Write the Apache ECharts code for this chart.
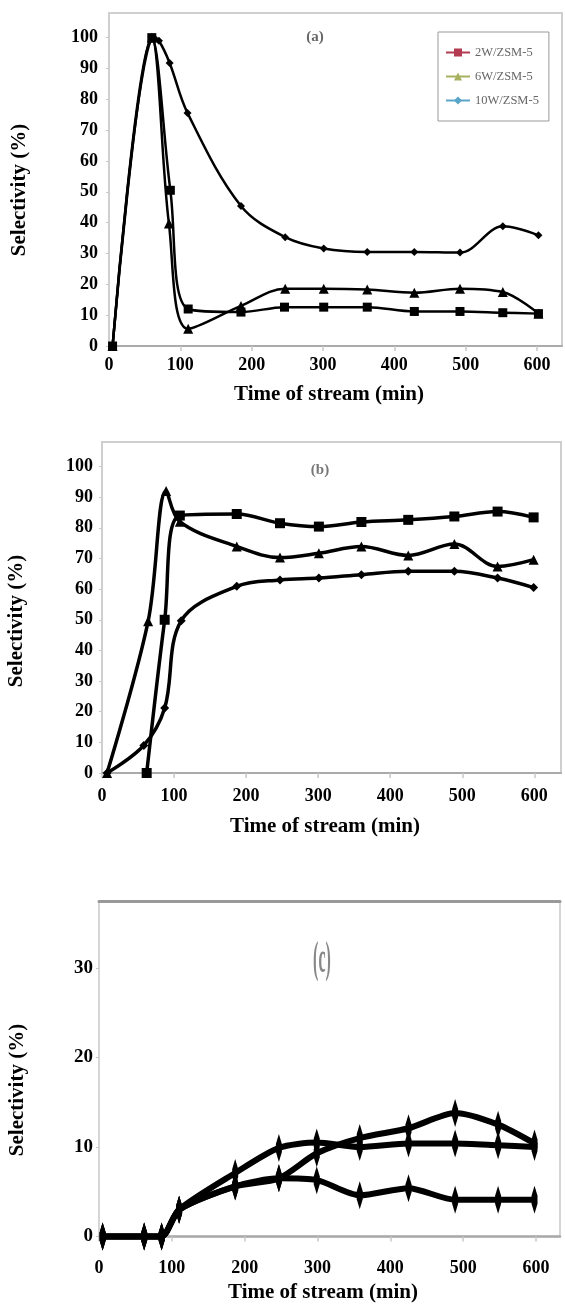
<!DOCTYPE html>
<html>
<head>
<meta charset="utf-8">
<title>Selectivity vs time of stream</title>
<script src="https://cdn.jsdelivr.net/npm/echarts@6/dist/echarts.min.js"></script>
<style>
  html, body { margin: 0; padding: 0; background: #fff; }
  #chart { width: 565px; height: 1309px; }
</style>
</head>
<body>
<div id="chart"></div>
<script>
  // series names
  const names = ['2W/ZSM-5', '6W/ZSM-5', '10W/ZSM-5']
  const legendColors = ['#b33a50', '#a8b25e', '#5aa6c8']

  // panel (a)
  const aTime2W = [5, 60, 86, 111, 185, 246, 301, 362, 428, 492, 552, 602]
  const aSel2W = [0, 100, 50.5, 12, 11, 12.6, 12.6, 12.6, 11.2, 11.2, 10.8, 10.5]
  const aTime6W = [5, 60, 84, 111, 185, 247, 301, 362, 428, 492, 552, 602]
  const aSel6W = [0, 100, 39.7, 5.6, 13, 18.6, 18.6, 18.3, 17.3, 18.6, 17.5, 10.5]
  const aTime10W = [5, 63, 70, 85, 110, 185, 247, 301, 362, 428, 492, 552, 602]
  const aSel10W = [0, 100, 99, 91.8, 75.6, 45.4, 35.3, 31.6, 30.5, 30.5, 30.3, 38.8, 35.9]

  // panel (b)
  const bTime2W = [62, 87, 108, 187, 247, 301, 360, 425, 489, 549, 599]
  const bSel2W = [0, 50, 84, 84.5, 81.5, 80.4, 81.9, 82.6, 83.7, 85.3, 83.4]
  const bTime6W = [7, 64, 89, 108, 187, 247, 301, 360, 425, 489, 549, 599]
  const bSel6W = [0, 49.5, 92, 82, 73.9, 70.3, 71.7, 73.9, 71, 74.7, 67.4, 69.6]
  const bTime10W = [7, 58, 87, 110, 187, 247, 301, 360, 425, 489, 549, 599]
  const bSel10W = [0, 9, 21.2, 49.7, 60.9, 63, 63.6, 64.7, 65.8, 65.8, 63.6, 60.5]

  // panel (c)
  const cTime = [5, 62, 86, 110, 187, 247, 299, 358, 425, 489, 548, 598]
  const cSel2W = [0, 0, 0, 3, 5.6, 6.5, 9.3, 11, 12.1, 13.8, 12.5, 10.4]
  const cSel6W = [0, 0, 0, 3, 7.1, 9.9, 10.5, 10, 10.4, 10.4, 10.2, 10]
  const cSel10W = [0, 0, 0, 3, 5.6, 6.5, 6.3, 4.6, 5.4, 4.1, 4.1, 4.1]

  // tick labels
  const xTicks = [0, 100, 200, 300, 400, 500, 600]
  const yTicksAB = [0, 10, 20, 30, 40, 50, 60, 70, 80, 90, 100]
  const yTicksC = [0, 10, 20, 30]

  const serif = 'Liberation Serif'
  const pairs = (xs, ys) => xs.map((x, i) => [x, ys[i]])

  function xAxis (grid, max, margin, lineWidth) {
    return {
      type: 'value', gridIndex: grid, min: 0, max: max,
      axisLine: { show: true, lineStyle: { color: '#aaa', width: lineWidth } },
      axisTick: { show: true, length: 5, customValues: xTicks, lineStyle: { color: '#c8c8c8', width: 1.5 } },
      axisLabel: { customValues: xTicks, margin: margin, color: '#000', fontFamily: serif, fontWeight: 'bold', fontSize: 18 },
      splitLine: { show: false }
    }
  }

  function yAxis (grid, max, ticks, margin, size) {
    return {
      type: 'value', gridIndex: grid, min: 0, max: max,
      axisLine: { show: false },
      axisTick: { show: true, length: 3, customValues: ticks, lineStyle: { color: '#c8c8c8' } },
      axisLabel: { customValues: ticks, margin: margin, color: '#000', fontFamily: serif, fontWeight: 'bold', fontSize: size },
      splitLine: { show: false }
    }
  }

  function line (name, axis, data, symbol, size, width, smooth) {
    return {
      type: 'line', name: name, xAxisIndex: axis, yAxisIndex: axis,
      data: data, symbol: symbol, symbolSize: size, smooth: smooth,
      clip: false, color: '#000',
      itemStyle: { color: '#000' },
      lineStyle: { color: '#000', width: width }
    }
  }

  const barMark = 'path://M0,-14 L2.5,-4 L2.5,4 L0,14 L-2.5,4 L-2.5,-4 Z'

  function label (text, x, y, size, color, rot, extra) {
    return Object.assign({
      type: 'text', x: x, y: y, rotation: rot || 0, z: 10,
      style: {
        text: text, font: 'bold ' + size + 'px "' + serif + '"', fill: color,
        align: 'center', verticalAlign: 'middle', textAlign: 'center', textVerticalAlign: 'middle'
      }
    }, extra || {})
  }

  const chart = echarts.init(document.getElementById('chart'))

  chart.setOption({
    backgroundColor: '#fff',
    animation: false,
    grid: [
      { left: 109, top: 13, width: 453, height: 333, show: true, borderColor: '#cfcfcf', borderWidth: 2 },
      { left: 102, top: 442, width: 459, height: 331, show: true, borderColor: '#cfcfcf', borderWidth: 2 },
      { left: 99, top: 901, width: 461, height: 335.5, show: true, borderColor: '#d6d6d6', borderWidth: 2 }
    ],
    xAxis: [
      xAxis(0, 635, 10, 2),
      xAxis(1, 637, 14, 2),
      xAxis(2, 633, 23, 2.5),
      {
        type: 'value', gridIndex: 2, position: 'top', min: 0, max: 633,
        axisLine: { show: true, lineStyle: { color: '#999', width: 3 } },
        axisTick: { show: false }, axisLabel: { show: false }, splitLine: { show: false }
      }
    ],
    yAxis: [
      yAxis(0, 108, yTicksAB, 11, 18),
      yAxis(1, 108, yTicksAB, 9, 18),
      yAxis(2, 37.5, yTicksC, 6, 19)
    ],
    legend: {
      orient: 'vertical', left: 438, top: 32,
      padding: [14, 10, 14, 7], itemGap: 11, itemWidth: 24, itemHeight: 10,
      borderColor: '#999', borderWidth: 1, backgroundColor: '#fff',
      textStyle: { fontFamily: serif, fontSize: 12.5, color: '#666' },
      data: names.map((n, i) => ({
        name: n,
        itemStyle: { color: legendColors[i] },
        lineStyle: { color: legendColors[i], width: 2 }
      }))
    },
    graphic: [
      label('Selectivity (%)', 20, 190, 21, '#000', Math.PI / 2),
      label('Selectivity (%)', 17, 621, 21, '#000', Math.PI / 2),
      label('Selectivity (%)', 18, 1090, 21, '#000', Math.PI / 2),
      label('Time of stream (min)', 329, 395, 21, '#000'),
      label('Time of stream (min)', 325, 827, 21, '#000'),
      label('Time of stream (min)', 323, 1293, 21, '#000'),
      label('(a)', 315, 37, 15, '#666'),
      label('(b)', 320, 470, 15, '#777'),
      label('(c)', 322, 960, 16, '#888', 0, { scaleY: 2.8 })
    ],
    series: [
      line(names[0], 0, pairs(aTime2W, aSel2W), 'rect', 9, 2.5, 0.35),
      line(names[1], 0, pairs(aTime6W, aSel6W), 'triangle', 10, 2.5, 0.35),
      line(names[2], 0, pairs(aTime10W, aSel10W), 'diamond', 8, 2.5, 0.35),
      line(names[0], 1, pairs(bTime2W, bSel2W), 'rect', 10, 3.5, 0.35),
      line(names[1], 1, pairs(bTime6W, bSel6W), 'triangle', 10, 3.5, 0.35),
      line(names[2], 1, pairs(bTime10W, bSel10W), 'diamond', 9, 3.5, 0.35),
      line(names[0], 2, pairs(cTime, cSel2W), barMark, [6, 28], 6, 0.25),
      line(names[1], 2, pairs(cTime, cSel6W), barMark, [6, 28], 6, 0.25),
      line(names[2], 2, pairs(cTime, cSel10W), barMark, [6, 28], 6, 0.25)
    ]
  })

  window.addEventListener('resize', function () {
    chart.resize()
  })
</script>
</body>
</html>
